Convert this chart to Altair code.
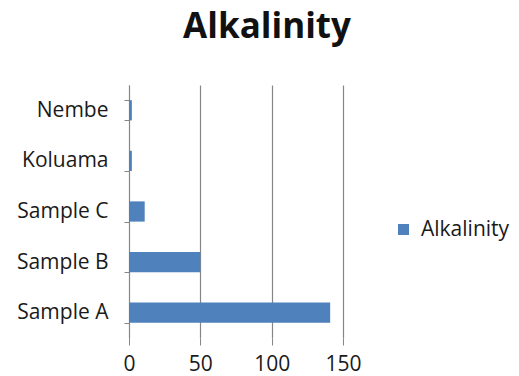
import altair as alt
import pandas as pd

# Alkalinity by sampling site
sites = ["Nembe", "Koluama", "Sample C", "Sample B", "Sample A"]
alkalinity = [2, 2, 11, 50, 141]
series = ["Alkalinity"] * len(sites)

df = pd.DataFrame({"site": sites, "value": alkalinity, "series": series})

FONT = "Open Sans"
TEXT = "#1a1a1a"
LINE = "#868686"

bars = alt.Chart(df).mark_bar(color="#4F81BD").encode(
    y=alt.Y(
        "site:N",
        sort=sites,
        title=None,
        scale=alt.Scale(paddingInner=0.6, paddingOuter=0.3),
        axis=alt.Axis(
            tickBand="extent",
            domainColor=LINE,
            tickColor=LINE,
            tickSize=5,
            labelPadding=16,
            labelFontSize=21,
            labelColor=TEXT,
            labelFont=FONT,
            grid=False,
        ),
    ),
    x=alt.X(
        "value:Q",
        title=None,
        scale=alt.Scale(domain=[0, 150]),
        axis=alt.Axis(
            values=[0, 50, 100, 150],
            domain=False,
            grid=True,
            gridColor=LINE,
            gridWidth=1.2,
            tickColor=LINE,
            tickSize=7,
            labelPadding=8,
            labelFlush=False,
            labelFontSize=21,
            labelColor=TEXT,
            labelFont=FONT,
        ),
    ),
    fill=alt.Fill(
        "series:N",
        scale=alt.Scale(range=["#4F81BD"]),
        legend=alt.Legend(
            title=None,
            orient="none",
            legendX=264,
            legendY=134,
            symbolType="square",
            symbolSize=121,
            symbolStrokeWidth=0,
            labelFontSize=21,
            labelFont=FONT,
            labelColor=TEXT,
            labelOffset=7,
        ),
    ),
)

chart = bars.properties(
    width=214,
    height=253,
    autosize=alt.AutoSizeParams(type="none"),
    padding={"left": 129, "top": 85, "right": 176, "bottom": 38},
    title=alt.TitleParams(
        "Alkalinity",
        font=FONT,
        fontSize=35,
        fontWeight="bold",
        color="#111111",
        anchor="middle",
        dx=31,
        offset=29,
    ),
).configure_view(stroke=None)

chart.save("out.html", embed_options={"renderer": "svg", "actions": False})
